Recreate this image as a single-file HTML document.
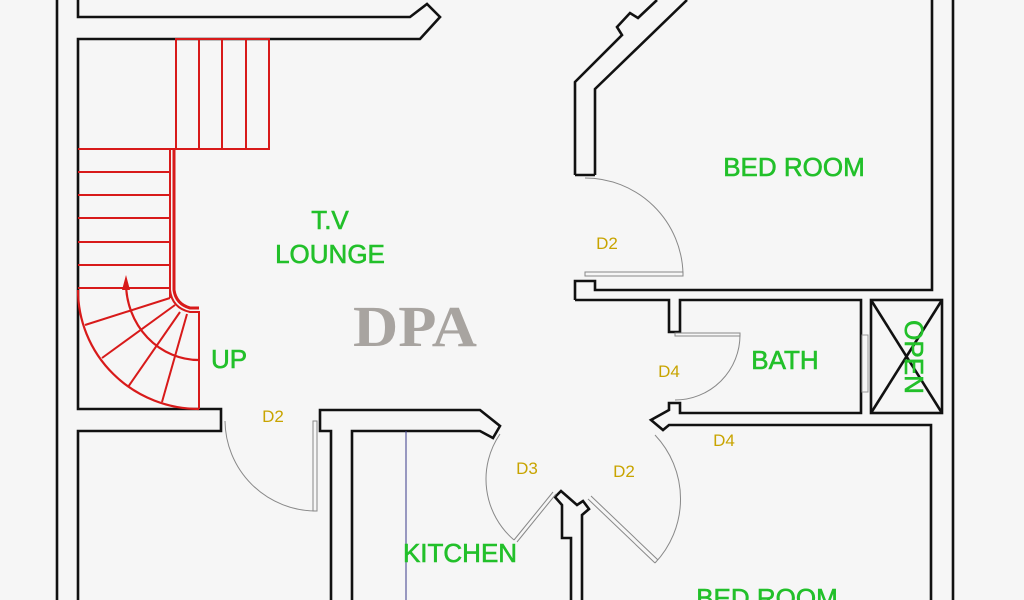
<!DOCTYPE html>
<html><head><meta charset="utf-8"><style>
html,body{margin:0;padding:0;background:#f6f6f6;}
svg{display:block;}
.w{fill:none;stroke:#111;stroke-width:2.6;stroke-linejoin:miter}
.r{fill:none;stroke:#d81a1a;stroke-width:2}
.d{fill:none;stroke:#888;stroke-width:1}
.g{font-family:"Liberation Sans",sans-serif;fill:#22c02a;font-size:26px;text-anchor:middle;stroke:#22c02a;stroke-width:0.6}
.y{font-family:"Liberation Sans",sans-serif;fill:#c8a400;font-size:17px;text-anchor:middle}
</style></head><body>
<svg width="1024" height="600" viewBox="0 0 1024 600">
<rect width="1024" height="600" fill="#f6f6f6"/>
<line class="w" x1="57" y1="0" x2="57" y2="600"/>
<line class="w" x1="953" y1="0" x2="953" y2="600"/>
<polyline class="w" points="78,0 78,17 410,17 427,4 440,17 420,39 78,39 78,409 221,409 221,431 78,431 78,600"/>
<rect class="r" x="176" y="39" width="93" height="110"/>
<line class="r" x1="199" y1="39" x2="199" y2="149"/>
<line class="r" x1="222" y1="39" x2="222" y2="149"/>
<line class="r" x1="246" y1="39" x2="246" y2="149"/>
<g class="r">
<line x1="78" y1="149" x2="176" y2="149"/>
<line x1="78" y1="172" x2="170" y2="172"/>
<line x1="78" y1="195" x2="170" y2="195"/>
<line x1="78" y1="218" x2="170" y2="218"/>
<line x1="78" y1="242" x2="170" y2="242"/>
<line x1="78" y1="265" x2="170" y2="265"/>
<line x1="78" y1="288" x2="170" y2="288"/>
<line x1="170" y1="288" x2="170" y2="298"/>
<path d="M170,149 L170,290 Q172,308 190,312 L199,312 L199,409"/>
<path d="M174,149 L174,290 Q176,304 190,308 L199,308" stroke-width="3"/>
<path d="M78,290 A121,119 0 0 0 199,409" stroke-width="2.2"/>
<path d="M126,283 A73,77 0 0 0 199,360" stroke-width="2.2"/>
<line x1="170" y1="298" x2="85" y2="325"/>
<line x1="175" y1="305" x2="102" y2="358"/>
<line x1="180" y1="312" x2="128" y2="387"/>
<line x1="187" y1="314" x2="162" y2="402"/>
<line x1="126" y1="283" x2="126" y2="290"/>
</g>
<polygon points="126,275 122,290 130,290" fill="#d81a1a"/>
<path class="d" d="M225,421 A91,91 0 0 0 316,511"/>
<rect class="d" x="313" y="421" width="4" height="90"/>
<polyline class="w" points="331,600 331,431 320,431 320,410 480,410 500,426 493,438 480,431 352,431 352,600"/>
<line x1="406" y1="431" x2="406" y2="600" stroke="#3a3a8a" stroke-width="1"/>
<polyline class="w" points="571,600 571,538 562,538 562,505 555,497 561,491 577,505 583,501 589,509 582,515 582,600"/>
<path class="d" d="M500,434 A80,80 0 0 0 514,540"/>
<line class="d" x1="553" y1="492" x2="514" y2="540"/>
<line class="d" x1="556" y1="494" x2="517" y2="542"/>
<line class="d" x1="588" y1="499" x2="655" y2="563"/>
<line class="d" x1="591" y1="496" x2="658" y2="560"/>
<path class="d" d="M655,563 A93,93 0 0 0 655,435"/>
<polyline class="w" points="575,175 575,82 622,35 617,27 630,13 638,18 657,0"/>
<polyline class="w" points="595,175 595,89 687,0"/>
<line class="w" x1="575" y1="175" x2="595" y2="175"/>
<path class="d" d="M585,178 A98,98 0 0 1 683,274"/>
<rect class="d" x="585" y="272" width="98" height="4"/>
<polyline class="w" points="575,300 575,281 595,281 595,290 932,290 932,0"/>
<polyline class="w" points="575,300 669,300 669,332 680,332 680,300 861,300 861,413 680,413 680,403 669,403 669,410 651,420 663,430 669,425 931,425 931,600"/>
<rect x="862" y="335" width="6" height="57" fill="none" stroke="#999" stroke-width="1"/>
<path class="d" d="M740,335 A65,65 0 0 1 675,400"/>
<rect class="d" x="675" y="333" width="65" height="3"/>
<rect class="w" x="871" y="300" width="71" height="113"/>
<line class="w" x1="871" y1="300" x2="942" y2="413" stroke-width="2"/>
<line class="w" x1="942" y1="300" x2="871" y2="413" stroke-width="2"/>
<text class="g" x="794" y="176">BED ROOM</text>
<text class="g" x="330" y="229">T.V</text>
<text class="g" x="330" y="263">LOUNGE</text>
<text class="g" x="229" y="368">UP</text>
<text class="g" x="785" y="369">BATH</text>
<text class="g" x="460" y="562" font-size="22">KITCHEN</text>
<text class="g" x="767" y="607">BED ROOM</text>
<text class="g" font-size="21" transform="translate(905,357) rotate(90)">OPEN</text>
<text x="415" y="346" font-family="Liberation Serif,serif" font-weight="bold" font-size="58" fill="#a8a4a0" text-anchor="middle" textLength="124" lengthAdjust="spacingAndGlyphs">DPA</text>
<text class="y" x="607" y="249">D2</text>
<text class="y" x="273" y="422">D2</text>
<text class="y" x="669" y="377">D4</text>
<text class="y" x="724" y="446">D4</text>
<text class="y" x="527" y="474">D3</text>
<text class="y" x="624" y="477">D2</text>
</svg>
</body></html>
